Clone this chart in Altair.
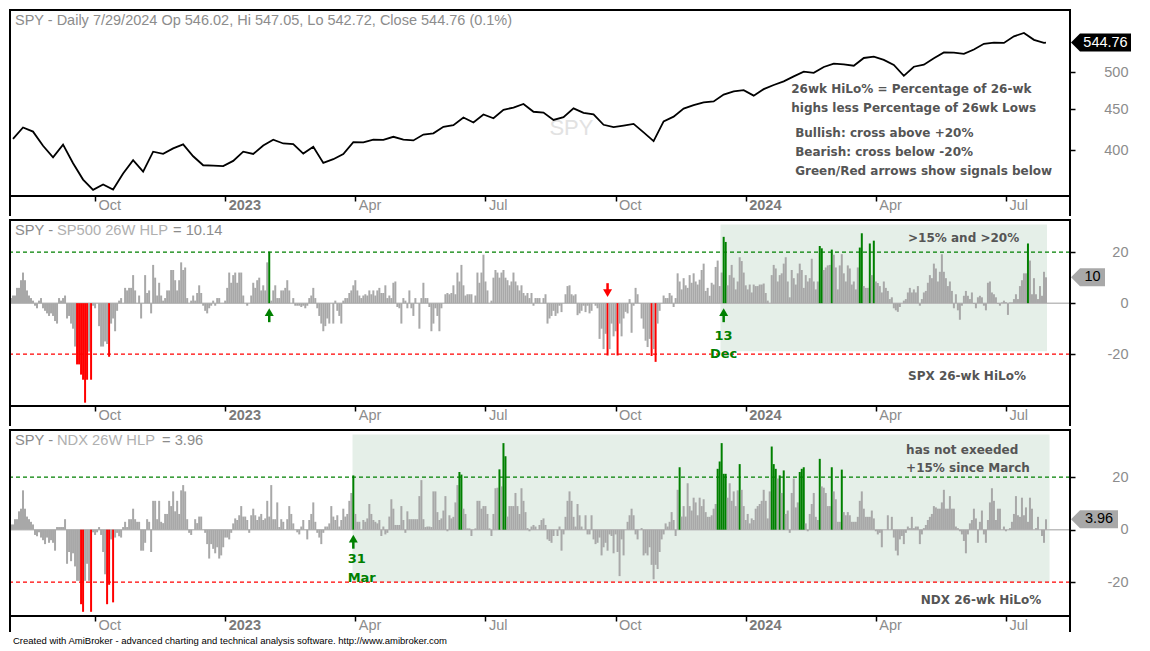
import altair as alt
import numpy as np
import pandas as pd

# ---------------- data ----------------
# SPY weekly closes (Fridays) 5 Aug 2022 .. 26 Jul 2024, then the last bar 29 Jul 2024
spy_weekly_close = [
    413.5, 427.1, 422.1, 405.3, 392.2, 406.6, 385.6, 367.9, 357.2, 362.8,
    357.6, 374.3, 389.0, 376.4, 398.5, 396.0, 402.3, 406.9, 393.3, 383.3,
    382.9, 382.4,
    388.1, 398.5, 395.9, 405.7, 412.4, 408.0, 407.3, 396.4, 404.2, 385.9,
    390.0, 395.8, 409.4, 409.2, 412.5, 412.2, 415.9, 412.6, 411.6, 418.6,
    420.0, 427.9, 429.9, 439.5, 433.2, 443.3, 438.6, 449.3, 452.2, 456.9,
    446.8, 445.7, 436.5, 440.0, 451.2, 445.5, 443.4, 430.4, 427.5, 429.5,
    431.5, 421.2, 410.7, 434.7, 440.6, 450.8, 455.3, 459.1, 460.2, 469.3,
    473.7, 475.3,
    467.9, 476.7, 482.4, 487.4, 494.4, 501.2, 499.5, 507.9, 512.9, 511.7,
    509.8, 521.2, 523.1, 518.4, 510.9, 495.2, 508.3, 511.3, 520.8, 529.5,
    529.4, 527.4, 534.0, 542.8, 544.5, 544.2, 554.6, 560.0, 549.0, 544.4,
]
spy_last_close = 544.76

# SP500 26-week High-Low Percent, one value per trading day (4 Aug 2022 .. 29 Jul 2024)
spx_hlp = [
    2, 3, 3, 6, 6, 9, 12, 9, 5, 3,
    2, 1, -1, -2, 1, 2, -2, -3, -4, -5,
    -4, -5, -7, -8, 2, 1, 2, 3, -6, -5,
    -8, -10, -17, -24, -24, -28, -30, -39, -30, -19,
    -30, -1, -2, 0, -9, -17, -17, -15, -16, -21,
    -8, -6, -11, -3, 1, 2, 0, 6, 5, 6,
    6, 11, 5, 0, 3, -6, 0, 11, 4, 5,
    -4, 15, 10, 3, 8, 3, 1, 2, 5, 5,
    13, 13, 9, 5, 9, 16, 13, 14, 2, 0,
    1, 3, 1, 4, 7, 4, -1, -3, -4, -2,
    -1, 1, -1, 2, 2, 0, 0, 1, 6, 12,
    8, 11, 12, 8, 12, 12, 3, 0, -1, 0,
    3, 8, 6, 9, 10, 5, 7, 5, 16, 20.2,
    1, 5, 7, 2, 2, 5, 5, 6, 9, 5,
    0, 2, -1, -1, -1, -1.5, -1, -2, -1, 2,
    3, 6, 2, -2, -5, -8, -11, -9, -6, -8,
    0, -8, 1, -3, -5, -8, 1, 2, 2, 4,
    5, 7, 9, 5, 3, 2, 3, 3.5, 3, 5,
    3.5, 5, 3, 5, 6, 4, 4, 7, 2, 3,
    2, 8, 8.5, -1.5, -2, -8, 2, 1, -2, 5,
    -2, -5, 2, 0, -10, 2, 8, 2, 2, -1.5,
    -11, -8, -2, -5, -11, -2, 0, 3.5, 4, 3.5,
    4, 7, 3.5, 12, 8.5, 15, 7, 3, 3.5, 3.5,
    3.5, 0, 3, 12, 8, 12, 19, 8.5, 5, 0,
    1, 10, 13, 12, 10, 12, 13, 10, 9, 7,
    8.5, 12, 8.5, 7, 5, 7, 4, 3, 4, 2,
    4, -1, 2, 2, 2, 0, 2, 3.5, -8, -6,
    -5, -3, -5, -4, -1, -3.5, 0, 3.5, 6.7, 7,
    3.5, 3, 3.5, -4.7, -4, -3, -1, -3.5, -1, -4,
    -3, 0, -1, -2, -14, -10, -18, -12, -20.5, -18,
    -8, -13, -11, -20.5, -8, -13, -6, -3.4, -4, 1.6,
    -11.6, -1, 6, 3.5, 0, -6, -10, -14.7, -17.2, -14,
    -20.7, -18, -23, -8, -3, 0, 3, 2, 2, 4,
    3, -1.5, 2, 11.7, 8.5, 5.4, 9.8, 7, 6, 11,
    8, 11.7, 8.5, 7.3, 9.2, 13, 15.5, 4.8, 6, 2.9,
    8, 7.3, 14.2, 16.7, 6.7, 12, 26, 24, 7, 11,
    15, 10, 5.4, 8.5, 18, 16.5, 12, 7, 5.4, 7.3,
    4.2, 7.3, 6.7, 6.7, 7.3, 7.3, 7.7, 4, 1, 0,
    11, 15, 13.6, 8.5, 11, 11.7, 15.5, 18, 8.5, 2.3,
    13, 9.8, 7.3, 11.7, 15.5, 13, 6, 11, 8.5, 9.8,
    17.4, 8.5, 5.4, 8.5, 22.4, 21.5, 13, 14, 14.8, 15,
    21, 19, 14, 5.4, 14.8, 19.2, 11.7, 8.5, 14.8, 13.6,
    7.3, 8.5, 5.4, 14, 21.8, 27.4, 6.7, 6, 6, 23.4,
    11, 24.5, 8.5, 7.9, 6.7, 4.2, 8.5, 6, 4.8, 1.6,
    2.3, -2, -2.8, -3.4, -1.5, 0, 1, 1.6, 4.2, 6,
    4.2, 5.4, 4.2, 6.7, -1, 1.6, 4.2, 4.8, 8, 11,
    9.8, 15.5, 13.6, 8.5, 12.3, 19.2, 12.3, 9.8, 6.7, 8.5,
    4.8, -2, 3.5, -2.8, -6.5, -1, 2.9, 4.8, 2.9, 1.6,
    4.2, -0.3, -2, 2.3, 2.9, 2.3, -1, -2.8, 8, 8.5,
    4.2, 3.5, 2.3, -0.3, -1, 0.3, 1, 0.4, -4.6, 0.3,
    0.3, 1.6, 3.5, 1.6, 6.7, 9, 11.7, 11.7, 23.4, 16.7,
    3.5, 9.8, 3.5, 1.6, 6.7, 2.9, 12.3, 10.14,
]

# Nasdaq-100 26-week High-Low Percent, one value per trading day
ndx_hlp = [
    2, 2, 4, 4, 7, 8, 15, 8, 5, 4,
    3, 2, -2, -2.5, -1, -3, -4, -5.5, -3, -5,
    -4, -5, -8, 1, 1, 1, 1, 4, -13, -8.5,
    -12, -9, -14, -19.5, -19.5, -28.4, -31.3, -19.5, -13, -19.5,
    -31.3, -1, -2, -1, 1, -2, -8.5, -17, -28.4, -21,
    -3.7, -27.7, -3, -1.2, -2.5, -3, 1, 3, 1, 4,
    4, 8, 4, 3, 3, -8, -8, -5, 4, 3,
    -8.5, 11, 11, 4, 11, 3, 2.5, 6, 6, 11,
    9, 14.6, 7, 11, 6, 15, 17, 14.6, 4, -1.2,
    -2, 0, 4, 2.5, 5, 5, 0, -1.2, -5.5, -11,
    -5.5, -7.3, -9, -6.7, -11, -9.8, -6.7, -3, -3, -3.7,
    -1.2, 2.4, 4.3, 3.7, 5.5, 9, 5, 5, 3.7, -1.2,
    5.5, 8, 5.5, 3.7, 5, 6, 3.7, 4.3, 11, 5,
    17, 4, 4, 10.4, 1, 4, 3, 0, 4, 9,
    6, 2.4, 0, -1, -1.8, 1.2, 3.7, 0, -3.7, 3.7,
    6, 10.4, 3, -1.2, -3, -5.5, -1.2, 1.2, 1.2, 2.4,
    9, 5, 3.7, 5.5, 1.2, 3.7, 8, 5, 6, 11,
    14, 20.7, 6, 3, 3, 0, 3.7, 3, 4.3, 9.8,
    6, 3.7, 3, 2.4, 3.7, -2.4, 1.2, -1.8, -1.2, 5,
    11.6, 8, 1.8, 1.8, 1.8, 9, 3.7, -1.2, 7, 4,
    4, 4, 4, 4, 12.8, 18.9, 4, 1, 1.2, 1.2,
    1, 14.6, 14.6, 6.7, 3.7, 4.3, 7.3, 12.8, -0.6, 5.5,
    4.3, 4.9, 10.4, 17, 22, 21, 8, 6, 0.5, 0.5,
    -2.4, 0, 0.5, 11, 11, 8, 9, 9, 6, 0.5,
    -2.4, 6, 15.8, 16, 23, 16.5, 33, 28, 5, 9,
    9, 9, 14, 9, 6, 15.8, 11, 6.7, 0.6, -0.6,
    1.2, 1.8, 1.2, 0, 1.8, 3.7, 4.3, 1.8, -3.7, -4.3,
    -5, -2.4, 0, -2.4, 1.2, -8, -1.8, 4.9, 11, 14.6,
    11, 4.9, 1.2, 9.8, 5.5, 1.2, 0, 5.5, -1.8, -1.8,
    5.5, -3.7, -5.5, -5, -3, -9.8, -6.7, -5, -8, -1.8,
    -2.4, -9, -1.8, -8.5, -17.7, -3.7, -9.8, 0, 3, 5.5,
    8, 5.5, -1.8, -3.7, 0, 0.6, -9.8, -9, -9.8, -6.7,
    -13.4, -18.9, -13.4, -15, -8.5, -3.7, -1.8, 2.4, 1.2, 3,
    6.7, 3.7, -2.4, 15.2, 23.8, 5, 9, 5, 17.7, 9,
    7.3, 12.2, 10.4, 5.5, 12.2, 9, 11.6, 6.7, 4.9, 4.9,
    5.5, 8, 9.8, 23.2, 26, 33, 21.3, 21.3, 12.2, 17.7,
    11, 14.6, 9, 15, 25, 15.2, 9, 3.7, 6, 2.4,
    4.3, 3.7, 8, 9, 9.8, 11, 15.2, 11, 4.3, 14.6,
    31.7, 25, 23.2, 19.5, 20.7, 14, 22.6, 6, 7.3, -1.2,
    14, 19.5, 8.5, 10.4, 22, 23.2, 23.8, 2.4, -0.6, 6,
    9.8, 14, 4.9, 3.7, 27, 16.5, 16, 14, 9, 9,
    23.8, 14.6, 11.6, 3, 3, 22.9, 6.7, 5.5, 6.7, 5.5,
    3, 3, 3, 4.9, 11, 14.6, 8, 4.9, 4.9, 4.9,
    7.3, 4.3, -0.6, -1.8, -1.2, -6.7, 0, 0, 5.5, 0,
    4.9, -3, -8, -9.8, -3.7, -2.4, -5.5, -1.2, 1.2, 0.6,
    4.9, 0.6, 1.2, 1.2, -5.5, -1.8, 0.6, 1.8, 3.7, 4.9,
    6, 9, 8.5, 8, 8, 10.4, 15.2, 8, 8, 12.8,
    8, 8, 1.2, 0.6, -0.6, -1.8, -4.3, -9, -1.8, 2.4,
    3.7, 8, 4.3, -5, 3, 7.3, -1.8, -5, 3.7, 10.4,
    15.8, 11, 3.7, 8, 8, 0, 1.2, -0.6, 0, 0.6,
    3, 6, 12.8, 5.5, 4.9, 12.2, 5.5, 8.5, 3, 12.2,
    8, 0, 0.6, 4.9, 0, -2.4, -5, 3.96,
]

# signal bars (arrows), in trading-day index
spx_buy_signals = [129, 356]
spx_sell_signals = [298]
ndx_buy_signals = [171]

quarter_labels = ["Oct", "2023", "Apr", "Jul", "Oct", "2024", "Apr", "Jul"]
quarter_starts = ["2022-10-01", "2023-01-01", "2023-04-01", "2023-07-01",
                  "2023-10-01", "2024-01-01", "2024-04-01", "2024-07-01"]
price_ticks = [400, 450, 500]
hlp_ticks = [-20, 0, 20]

# ---------------- derived tables ----------------
dates = pd.bdate_range("2022-08-04", "2024-07-29")
N = len(dates)
idx = np.arange(N)
tick_idx = [int(np.searchsorted(dates.values, np.datetime64(q))) for q in quarter_starts]
week_idx = [int(k) for k in np.where(dates.weekday == 4)[0]] + [N - 1]
price_df = pd.DataFrame({"i": week_idx, "close": spy_weekly_close + [spy_last_close]})

GREEN, RED, GRAY = "#008000", "#ff0000", "#a8a8a8"


def bars_df(vals):
    v = np.array(vals, dtype=float)
    return pd.DataFrame({"i": idx, "v": v, "z": 0.0,
                         "c": np.where(v >= 20, GREEN, np.where(v <= -20, RED, GRAY))})


# ---------------- layout ----------------
W, H = 1060, 186
XS = alt.Scale(domain=[-0.5, 529], nice=False, zero=False)
PX = lambda xr: (xr - 2) * W / 1080.0

label_expr = " : ".join(f"datum.value == {t} ? '{l}'" for t, l in zip(tick_idx, quarter_labels)) + " : ''"
year_test = " || ".join(f"datum.value == {t}" for t, l in zip(tick_idx, quarter_labels) if l.isdigit())

xaxis = alt.Axis(values=tick_idx, labelExpr=label_expr, title=None, grid=False, domain=False,
                 ticks=True, tickSize=5, tickColor="#000", tickWidth=1.5,
                 labelAlign="left", labelBaseline="top", labelPadding=-3, labelOffset=3,
                 labelFont="Liberation Sans", labelFontSize=14.5,
                 labelColor={"condition": {"test": year_test, "value": "#7a7a7a"}, "value": "#8c8c8c"},
                 labelFontWeight={"condition": {"test": year_test, "value": "bold"}, "value": "normal"},
                 labelFlush=False, labelOverlap=False)


def X(f):
    return alt.X(f"{f}:Q", scale=XS, axis=xaxis)


def yaxis(vals):
    return alt.Axis(values=vals, orient="right", title=None, grid=False, domain=False,
                    tickSize=5, tickColor="#000", tickWidth=1.5,
                    labelAlign="right", labelBaseline="middle", labelPadding=53,
                    labelFont="Liberation Sans", labelFontSize=14.5, labelColor="#8c8c8c",
                    labelExpr="'' + datum.value", labelFlush=False, labelOverlap=False)


def make_Y(scale, axis):
    return lambda f: alt.Y(f"{f}:Q", scale=scale, axis=axis)


one = pd.DataFrame({"a": [0]})


def txt(s, x, y, size=12, color="#555555", font="DejaVu Sans", weight="bold", align="left"):
    return alt.Chart(pd.DataFrame({"t": [s]})).mark_text(
        align=align, baseline="middle", font=font, fontSize=size, fontWeight=weight, color=color
    ).encode(x=alt.value(x), y=alt.value(y), text="t:N")


def vline(x, y2):
    return alt.Chart(one).mark_rule(color="#000", strokeWidth=2).encode(
        x=alt.value(x), y=alt.value(0), y2=alt.value(y2))


def tag(v, label, w, Yf, fill, tcolor):
    a, hh = 9.0, 9.0
    k = w / 2.0
    path = (f"M-1,0L{-1 + a / k:.3f},{-hh / k:.3f}L1,{-hh / k:.3f}"
            f"L1,{hh / k:.3f}L{-1 + a / k:.3f},{hh / k:.3f}Z")
    d = pd.DataFrame({"v": [v], "t": [label]})
    shape = alt.Chart(d).mark_point(shape=path, size=w * w, filled=True, color=fill,
                                    opacity=1, strokeWidth=0).encode(
        x=alt.value(W + 1 + k), y=Yf("v"))
    text = alt.Chart(d).mark_text(font="Liberation Sans", fontSize=14.5, color=tcolor,
                                  align="center", baseline="middle").encode(
        x=alt.value(W + 1 + a + (w - a) / 2.0), y=Yf("v"), text="t:N")
    return [shape, text]


def arrows(sig, Yf, up, color):
    d = pd.DataFrame({"i": sig, "z": 0.0})
    if up:
        head = alt.Chart(d).mark_point(shape="triangle-up", filled=True, size=81, color=color,
                                       opacity=1, yOffset=9)
        stem = alt.Chart(d).mark_rule(color=color, strokeWidth=2.5, yOffset=12, y2Offset=19)
    else:
        head = alt.Chart(d).mark_point(shape="triangle-down", filled=True, size=81, color=color,
                                       opacity=1, yOffset=-10)
        stem = alt.Chart(d).mark_rule(color=color, strokeWidth=2.5, yOffset=-20, y2Offset=-13)
    return [stem.encode(x=X("i"), y=Yf("z"), y2=alt.Y2("z")),
            head.encode(x=X("i"), y=Yf("z"))]


def hlp_layers(vals, Yf, shade):
    layers = []
    sd = pd.DataFrame({"x0": [shade[0]], "x1": [shade[1]], "y0": [shade[2]], "y1": [shade[3]]})
    layers.append(alt.Chart(sd).mark_rect(color="#e5efe8").encode(
        x=X("x0"), x2=alt.X2("x1"), y=Yf("y0"), y2=alt.Y2("y1")))
    layers.append(alt.Chart(pd.DataFrame({"v": [0.0]})).mark_rule(color="#bdbdbd", strokeWidth=1.5)
                  .encode(y=Yf("v")))
    layers.append(alt.Chart(pd.DataFrame({"v": [20.0]})).mark_rule(color=GREEN, strokeWidth=1.2,
                                                                   strokeDash=[4, 3]).encode(y=Yf("v")))
    layers.append(alt.Chart(pd.DataFrame({"v": [-20.0]})).mark_rule(color=RED, strokeWidth=1.2,
                                                                    strokeDash=[4, 3]).encode(y=Yf("v")))
    layers.append(alt.Chart(bars_df(vals)).mark_rule(strokeWidth=2.0, strokeCap="butt").encode(
        x=X("i"), y=Yf("v"), y2=alt.Y2("z"), color=alt.Color("c:N", scale=None)))
    return layers


TS = 14.7  # panel title font size
GL = dict(font="Liberation Sans", weight="normal")

# ---------------- panel 1: SPY price ----------------
Y1 = make_Y(alt.Scale(type="log", domain=[351, 598], nice=False, zero=False), yaxis(price_ticks))
py1 = lambda y: y * H / 193.0
p1 = alt.layer(
    txt("SPY", PX(574), py1(122), size=22, color="#e2e2e2", align="center", **GL),
    alt.Chart(price_df).mark_line(color="#000", strokeWidth=1.8).encode(x=X("i"), y=Y1("close")),
    txt("SPY - Daily 7/29/2024 Op 546.02, Hi 547.05, Lo 542.72, Close 544.76 (0.1%)",
        5, py1(11), size=14.5, color="#8c8c8c", **GL),
    txt("26wk HiLo% = Percentage of 26-wk", PX(798), py1(82)),
    txt("highs less Percentage of 26wk Lows", PX(798), py1(102)),
    txt("Bullish: cross above +20%", PX(802), py1(128)),
    txt("Bearish: cross below -20%", PX(802), py1(147)),
    txt("Green/Red arrows show signals below", PX(802), py1(167)),
    *tag(spy_last_close, "544.76", 60, Y1, "#000000", "#ffffff"),
    vline(0, H + 20), vline(W, H + 20),
).properties(width=W, height=H)

# ---------------- panel 2: SP500 26W HLP ----------------
Y2 = make_Y(alt.Scale(domain=[-40.3, 32.6], nice=False, zero=False), yaxis(hlp_ticks))
py2 = lambda y: (y - 213) * H / 193.0
p2 = alt.layer(
    *hlp_layers(spx_hlp, Y2, (354.4, 517.5, -18.8, 30.8)),
    *arrows(spx_buy_signals, Y2, True, GREEN),
    *arrows(spx_sell_signals, Y2, False, RED),
    txt("SPY - ", 5, py2(224), size=TS, color="#8c8c8c", **GL),
    txt("SP500 26W HLP", 47, py2(224), size=TS, color="#b0b0b0", **GL),
    txt("= 10.14", 163, py2(224), size=TS, color="#8c8c8c", **GL),
    txt(">15% and >20%", PX(917), py2(232)),
    txt("SPX 26-wk HiLo%", PX(917), py2(375)),
    txt("13", PX(729), py2(333), size=13, color=GREEN, align="center"),
    txt("Dec", PX(729), py2(352), size=13, color=GREEN, align="center"),
    *tag(spx_hlp[-1], "10", 34, Y2, GRAY, "#000000"),
    vline(0, H + 20), vline(W, H + 20),
).properties(width=W, height=H)

# ---------------- panel 3: NDX 26W HLP ----------------
Y3 = make_Y(alt.Scale(domain=[-32.9, 38.0], nice=False, zero=False), yaxis(hlp_ticks))
py3 = lambda y: (y - 426) * H / 194.0
p3 = alt.layer(
    *hlp_layers(ndx_hlp, Y3, (170.6, 518.8, -20.0, 36.3)),
    *arrows(ndx_buy_signals, Y3, True, GREEN),
    txt("SPY - ", 5, py3(437), size=TS, color="#8c8c8c", **GL),
    txt("NDX 26W HLP", 47, py3(437), size=TS, color="#b0b0b0", **GL),
    txt("= 3.96", 152, py3(437), size=TS, color="#8c8c8c", **GL),
    txt("has not exeeded", PX(915), py3(447)),
    txt("+15% since March", PX(915), py3(466)),
    txt("NDX 26-wk HiLo%", PX(930), py3(603)),
    txt("31", PX(346), py3(561), size=13, color=GREEN),
    txt("Mar", PX(346), py3(580), size=13, color=GREEN),
    *tag(ndx_hlp[-1], "3.96", 47, Y3, GRAY, "#000000"),
    txt("Created with AmiBroker - advanced charting and technical analysis software. http://www.amibroker.com",
        3, H + 25, size=9.5, color="#000000", **GL),
    vline(0, H + 16), vline(W, H + 16),
).properties(width=W, height=H)

chart = alt.vconcat(p1, p2, p3, spacing=0).properties(
    padding=0, background="white"
).configure_view(stroke="#000", strokeWidth=2)

chart.save("out.html", embed_options={"renderer": "svg", "actions": False})
